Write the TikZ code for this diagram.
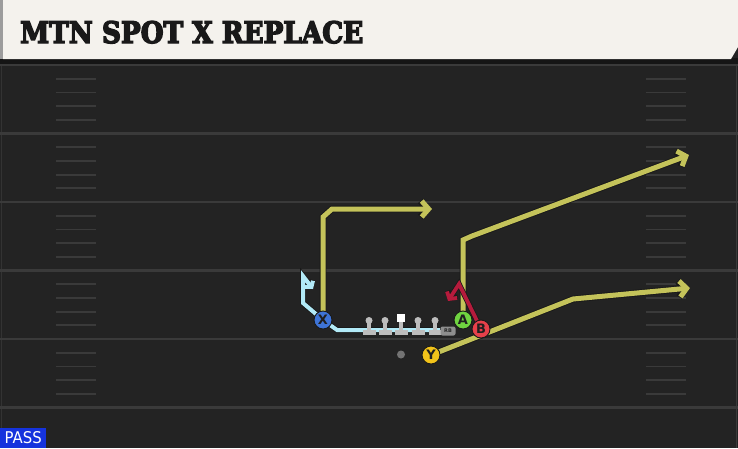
\documentclass[tikz,border=0pt]{standalone}
\usepackage{fontspec}
\setmainfont{DejaVu Sans}
\newfontfamily\titlefont[BoldFeatures={FakeBold=5}]{DejaVu Serif}
\usetikzlibrary{arrows.meta}
\definecolor{fieldbg}{HTML}{232323}
\definecolor{yardc}{HTML}{3A3A3A}
\definecolor{hashc}{HTML}{3A3A3A}
\definecolor{cream}{HTML}{F4F2ED}
\definecolor{edgegray}{HTML}{9C9C9C}
\definecolor{darkband}{HTML}{151515}
\definecolor{routey}{HTML}{C4C35A}
\definecolor{routeb}{HTML}{B2EAF7}
\definecolor{router}{HTML}{B51B3C}
\definecolor{pxblue}{HTML}{3E74D6}
\definecolor{pagreen}{HTML}{6FD340}
\definecolor{pbred}{HTML}{E6404A}
\definecolor{pyyellow}{HTML}{F2C31A}
\definecolor{olgray}{HTML}{BDBDBD}
\definecolor{passblue}{HTML}{1533DD}
\pgfdeclarelayer{bg}
\pgfdeclarelayer{routes}
\pgfsetlayers{bg,routes,main}
\tikzset{
  yard/.style={draw=yardc, line width=2.2pt},
  hash/.style={draw=hashc, line width=1.8pt},
  routeout/.style={draw=black!90, line width=6.8pt, line join=miter, -{Straight Barb[length=7pt,width=16pt]}},
  routein/.style={line width=5pt, line join=miter, -{Straight Barb[length=7pt,width=16pt]}},
  player/.style={circle, draw=black!90, line width=0.9pt, minimum size=18pt, inner sep=0pt,
    text=black!88, font=\bfseries\fontsize{13}{13}\selectfont},
  head/.style={circle, fill=olgray, minimum size=7pt, inner sep=0pt},
  centersq/.style={rectangle, fill=white, minimum size=8pt, inner sep=0pt},
  rbtag/.style={rectangle, rounded corners=2pt, fill=olgray!75!black, minimum width=15pt, minimum height=9pt,
    inner sep=0pt, text=black!85, font=\bfseries\fontsize{5}{5}\selectfont},
}
\newcommand{\myroute}[2]{\draw[routeout] #2; \draw[routein,draw=#1] #2;}
\begin{document}
\begin{tikzpicture}[x=1pt,y=-1pt]
\useasboundingbox (0,0) rectangle (738,448);
\begin{pgfonlayer}{bg}
\fill[fieldbg] (0,0) rectangle (738,448);
\draw[draw=black!80!white, line width=1pt] (1,63) -- (1,448);
\draw[draw=yardc, line width=1pt] (736.5,63) -- (736.5,448);
\foreach \y in {65,133.5,202,270.5,339,407.5} \draw[yard] (0,\y) -- (738,\y);
\foreach \k in {0,...,4}{
  \foreach \j in {1,...,4}{
    \draw[hash] (56,{65+68.5*\k+13.7*\j}) -- (96,{65+68.5*\k+13.7*\j});
    \draw[hash] (646,{65+68.5*\k+13.7*\j}) -- (686,{65+68.5*\k+13.7*\j});
  }
}
\fill[darkband] (0,58) rectangle (738,63.5);
\fill[cream] (3,0) -- (738,0) -- (738,47) -- (731,59) -- (3,59) -- cycle;
\fill[edgegray] (0,0) rectangle (3,59);
\end{pgfonlayer}
\node[anchor=base west, inner sep=0pt, text=black!90] (title) at (20,43) {\resizebox{343pt}{22pt}{\titlefont\bfseries MTN SPOT X REPLACE}};
% offensive line
\foreach \x/\n in {369/lt,385/lg,418/rg,435/rt}{
  \fill[olgray] ({\x-1.8},321) rectangle ({\x+1.8},331);
  \fill[olgray] ({\x-6.5},330) rectangle ({\x+6.5},334.5);
  \node[head] (\n) at (\x,320.5) {};
}
\fill[olgray] (399.2,321) rectangle (402.8,331);
\fill[olgray] (394.5,330) rectangle (407.5,334.5);
\node[centersq] (C) at (401,318) {};
\node[rbtag] (RB) at (448,331) {RB};
\node[circle, fill=black!55, minimum size=8pt, inner sep=0pt] (ball) at (401,354.5) {};
% players
\node[player, fill=pxblue] (X) at (323,320) {X};
\node[player, fill=pagreen] (A) at (463,320) {A};
\node[player, fill=pbred] (B) at (481,329) {B};
\node[player, fill=pyyellow] (Y) at (431,355) {Y};
% route end points
\coordinate (xend) at (432,209);
\coordinate (aend) at (689,155);
\coordinate (yend) at (690,288);
\coordinate (bend) at (448,301);
\coordinate (mstart) at (440,330);
\coordinate (mend) at (313,289);
\begin{pgfonlayer}{routes}
\myroute{routey}{(X.center) -- (323,217) -- (332,209) -- (xend)}
\myroute{routey}{(A.center) -- (463,240) -- (472,236) -- (aend)}
\myroute{routey}{(Y.center) -- (573,299) -- (yend)}
\draw[draw=black!90, line width=5.4pt, line join=miter, -{Straight Barb[length=5pt,width=12pt]}] (B.center) -- (459,284) -- (bend);
\draw[draw=router, line width=3.8pt, line join=miter, -{Straight Barb[length=5pt,width=12pt]}] (B.center) -- (459,284) -- (bend);
\draw[draw=black!90, line width=5.6pt, line join=miter, -{Straight Barb[length=4pt,width=10pt]}] (mstart) -- (337,330) -- (X.center) -- (303,303) -- (303,276) -- (mend);
\draw[draw=routeb, line width=4pt, line join=miter, -{Straight Barb[length=4pt,width=10pt]}] (mstart) -- (337,330) -- (X.center) -- (303,303) -- (303,276) -- (mend);
\end{pgfonlayer}
\node[fill=passblue, anchor=south west, minimum width=46pt, minimum height=20pt, inner sep=0pt, text=white] (pass) at (0,448) {\resizebox{37pt}{12pt}{PASS}};
\end{tikzpicture}
\end{document}
